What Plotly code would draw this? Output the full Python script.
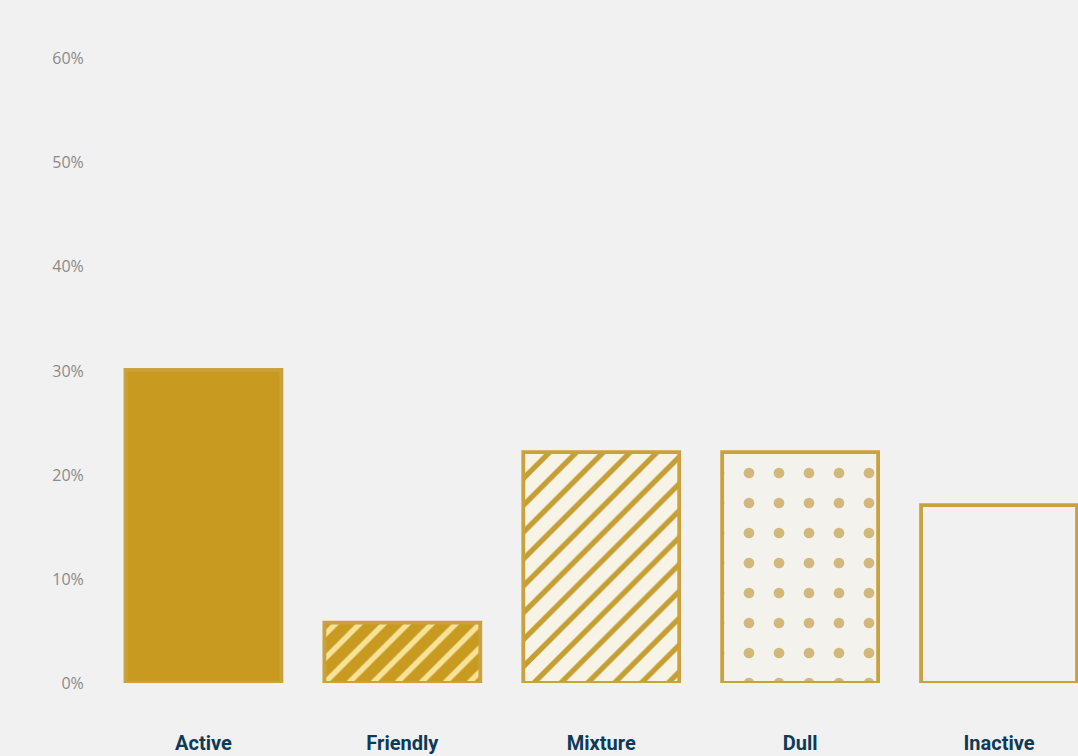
import plotly.graph_objects as go

categories = ["Active", "Friendly", "Mixture", "Dull", "Inactive"]
values = [30.1, 5.8, 22.2, 22.2, 17.1]
y_ticks = [0, 10, 20, 30, 40, 50, 60]

BG = "#f1f1f1"
GOLD = "#c89b20"
EDGE = "#c9a23e"

fill_colors = [GOLD, GOLD, "#f7f3e6", "#f4f2ec", BG]
pattern_shapes = ["", "/", "/", ".", ""]
pattern_fg = [GOLD, "#f7e29a", "#c59e34", "#d2b87c", BG]
pattern_size = [10, 17, 19, 30, 10]
pattern_solid = [0.3, 0.32, 0.28, 0.1, 0.3]

fig = go.Figure()
for cat, val, fc, shp, fg, sz, sol in zip(categories, values, fill_colors,
                                          pattern_shapes, pattern_fg,
                                          pattern_size, pattern_solid):
    fig.add_trace(go.Bar(
        x=[cat],
        y=[val],
        marker=dict(
            color=fc,
            line=dict(color=EDGE, width=3.8),
            pattern=dict(shape=shp, fgcolor=fg, fgopacity=1, size=sz,
                         solidity=sol, fillmode="overlay"),
        ),
        hoverinfo="skip",
    ))

fig.update_layout(
    width=1078,
    height=756,
    paper_bgcolor=BG,
    plot_bgcolor=BG,
    margin=dict(l=104, r=0, t=38, b=73),
    barmode="overlay",
    bargap=0.216,
    showlegend=False,
    xaxis=dict(
        type="category",
        categoryorder="array",
        categoryarray=categories,
        range=[-0.5, 4.397],
        showgrid=False,
        zeroline=False,
        showline=False,
        ticks="outside",
        ticklen=42,
        tickcolor="rgba(0,0,0,0)",
        tickfont=dict(family="Roboto", size=20, color="#0e3a57", weight="bold"),
    ),
    yaxis=dict(
        range=[0, 62],
        tickvals=y_ticks,
        ticktext=[f"{v}%" for v in y_ticks],
        showgrid=False,
        zeroline=False,
        showline=False,
        ticks="outside",
        ticklen=16,
        tickcolor="rgba(0,0,0,0)",
        tickfont=dict(family="Open Sans", size=16, color="#8a8a8a"),
    ),
)

fig.write_html("out.html", config={"displayModeBar": False})

with open("out.html", "r", encoding="utf-8") as f:
    html = f.read()
html = html.replace("<head>", "<head><style>html,body{margin:0;padding:0;overflow:hidden;background:#f1f1f1;}</style>", 1)
with open("out.html", "w", encoding="utf-8") as f:
    f.write(html)
